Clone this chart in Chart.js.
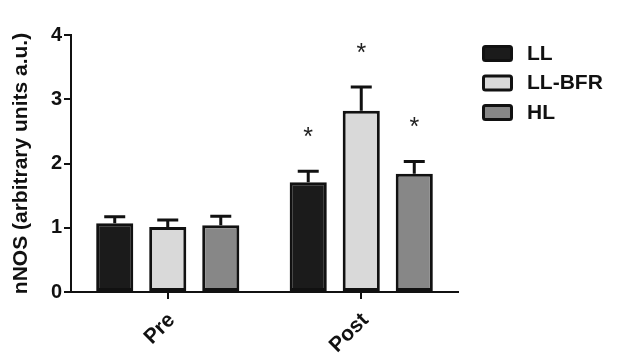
<!DOCTYPE html>
<html>
<head>
<meta charset="utf-8">
<script src="https://cdn.jsdelivr.net/npm/chart.js@4.4.0/dist/chart.umd.min.js"></script>
<style>
  html, body { margin: 0; padding: 0; background: #fff; }
  #wrap { width: 623px; height: 364px; }
</style>
</head>
<body>
<div id="wrap"><canvas id="myChart" width="623" height="364"></canvas></div>
<script>
// nNOS data
const categories = ['Pre', 'Post'];
const groups = ['LL', 'LL-BFR', 'HL'];
const llMean = [1.07, 1.71];
const llSem = [0.10, 0.17];
const bfrMean = [1.01, 2.82];
const bfrSem = [0.11, 0.37];
const hlMean = [1.04, 1.84];
const hlSem = [0.14, 0.19];
// significance marks (*) per group, per category
const llSig = [false, true];
const bfrSig = [false, true];
const hlSig = [false, true];
const yTicks = [0, 1, 2, 3, 4];

const FONT = '"Liberation Sans", Arial, Helvetica, sans-serif';
const colors = ['#1b1b1b', '#d9d9d9', '#878787'];
const sems = [llSem, bfrSem, hlSem];
const sigs = [llSig, bfrSig, hlSig];

// error bars (upper only) + stars + rotated x labels + legend
const extras = {
    id: 'extras',
    afterDatasetsDraw(chart) {
        const ctx = chart.ctx;
        const y = chart.scales.y;
        ctx.save();
        chart.data.datasets.forEach((ds, i) => {
            const meta = chart.getDatasetMeta(i);
            meta.data.forEach((bar, j) => {
                const top = y.getPixelForValue(ds.data[j] + sems[i][j]);
                ctx.strokeStyle = '#111';
                ctx.lineWidth = 3;
                ctx.beginPath();
                ctx.moveTo(bar.x, bar.y);
                ctx.lineTo(bar.x, top);
                ctx.moveTo(bar.x - 10.5, top);
                ctx.lineTo(bar.x + 10.5, top);
                ctx.stroke();
                if (sigs[i][j]) {
                    ctx.fillStyle = '#222';
                    ctx.font = '25px ' + FONT;
                    ctx.textAlign = 'center';
                    ctx.textBaseline = 'middle';
                    ctx.fillText('*', bar.x, top - 33);
                }
            });
        });
        ctx.restore();
    },
    afterDraw(chart) {
        const ctx = chart.ctx;
        const x = chart.scales.x;
        const area = chart.chartArea;
        ctx.save();
        ctx.fillStyle = '#111';
        ctx.font = 'bold 21px ' + FONT;
        ctx.textAlign = 'right';
        ctx.textBaseline = 'middle';
        categories.forEach((c, i) => {
            const px = x.getPixelForTick(i);
            ctx.save();
            ctx.translate(px + 4, area.bottom + 25);
            ctx.rotate(-Math.PI / 4);
            ctx.fillText(c, 0, 0);
            ctx.restore();
        });
        // legend
        chart.data.datasets.forEach((ds, i) => {
            const ly = 45 + i * 29.5;
            ctx.fillStyle = ds.backgroundColor;
            ctx.strokeStyle = '#111';
            ctx.lineWidth = 3;
            ctx.beginPath();
            ctx.roundRect(483.5, ly + 1.5, 28, 14, 2);
            ctx.fill();
            ctx.stroke();
            ctx.fillStyle = '#111';
            ctx.font = 'bold 21px ' + FONT;
            ctx.textAlign = 'left';
            ctx.textBaseline = 'middle';
            ctx.fillText(ds.label, 527, ly + 9);
        });
        ctx.restore();
    }
};

const ctx = document.getElementById('myChart').getContext('2d');
const myChart = new Chart(ctx, {
    type: 'bar',
    data: {
        labels: categories,
        datasets: [
            { label: groups[0], data: llMean, backgroundColor: colors[0] },
            { label: groups[1], data: bfrMean, backgroundColor: colors[1] },
            { label: groups[2], data: hlMean, backgroundColor: colors[2] }
        ]
    },
    options: {
        responsive: false,
        animation: false,
        devicePixelRatio: 1,
        layout: { padding: { top: 35, right: 165, bottom: 0, left: 0 } },
        datasets: {
            bar: {
                borderColor: '#111',
                borderWidth: 3,
                borderSkipped: false,
                categoryPercentage: 0.822,
                barPercentage: 0.70
            }
        },
        plugins: {
            legend: { display: false },
            tooltip: { enabled: false }
        },
        scales: {
            x: {
                grid: { offset: false, drawOnChartArea: false, drawTicks: true, tickLength: 7, color: '#111', lineWidth: 2 },
                border: { display: true, color: '#111', width: 2 },
                ticks: { display: false },
                afterFit(scale) { scale.height = 72; }
            },
            y: {
                min: 0,
                max: 4,
                afterBuildTicks(scale) { scale.ticks = yTicks.map(v => ({ value: v })); },
                grid: { drawOnChartArea: false, drawTicks: true, tickLength: 7, color: '#111', lineWidth: 2 },
                border: { display: true, color: '#111', width: 2 },
                ticks: { color: '#111', font: { family: FONT, size: 20, weight: 'bold' }, padding: 2 },
                title: {
                    display: true,
                    text: 'nNOS (arbitrary units a.u.)',
                    color: '#111',
                    font: { family: FONT, size: 21, weight: 'bold' },
                    padding: { top: 9, bottom: 0 }
                },
                afterFit(scale) { scale.width = 71; }
            }
        }
    },
    plugins: [extras]
});
</script>
</body>
</html>
